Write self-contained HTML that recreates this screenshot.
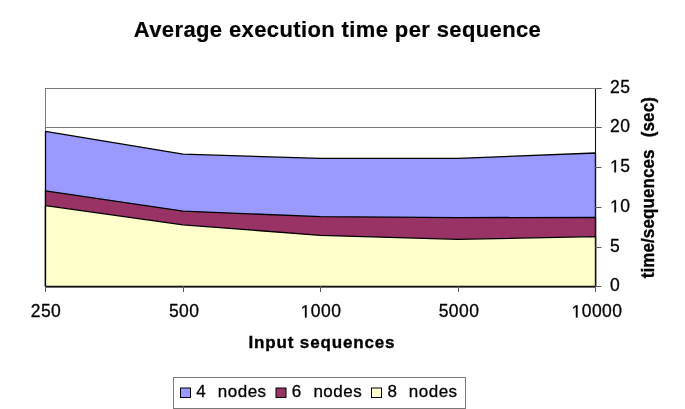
<!DOCTYPE html>
<html>
<head>
<meta charset="utf-8">
<style>
html,body{margin:0;padding:0;background:#fff;width:685px;height:409px;overflow:hidden;}
svg{display:block;will-change:transform;filter:blur(0.3px);}
text{font-family:"Liberation Sans",sans-serif;fill:#000;}
.yl,.xl,.lg{stroke:#000;stroke-width:0.3px;}
.ax{stroke:#000;stroke-width:0.35px;}
.t{stroke:#000;stroke-width:0.2px;}
.t{font-weight:bold;font-size:22px;letter-spacing:0.38px;}
.ax{font-weight:bold;font-size:17px;letter-spacing:0.85px;}
.yl{font-size:17.5px;letter-spacing:0.4px;}
.xl{font-size:17.5px;letter-spacing:0.45px;}
.lg{font-size:17px;letter-spacing:0.5px;}
</style>
</head>
<body>
<svg width="685" height="409" viewBox="0 0 685 409" xmlns="http://www.w3.org/2000/svg">
<rect x="0" y="0" width="685" height="409" fill="#fff"/>
<!-- title -->
<text class="t" transform="translate(133.8,37.4) scale(1,1.01)" x="0" y="0">Average execution time per sequence</text>

<!-- plot area border (gray) -->
<line x1="45" y1="88.5" x2="601.5" y2="88.5" stroke="#787878" stroke-width="1"/>
<line x1="45.5" y1="88" x2="45.5" y2="292" stroke="#787878" stroke-width="1"/>
<!-- gridline 20 -->
<line x1="45" y1="127.5" x2="601.5" y2="127.5" stroke="#787878" stroke-width="1"/>

<!-- areas -->
<polygon points="45.5,131.4 183,154.2 320.5,158.4 458,158.4 595.5,153 595.5,286.5 45.5,286.5" fill="#9999FF" stroke="#000" stroke-width="1.3" stroke-linejoin="round"/>
<polygon points="45.5,190.9 183,211.1 320.5,216.7 458,217.6 595.5,217.4 595.5,286.5 45.5,286.5" fill="#993366" stroke="#000" stroke-width="1.3" stroke-linejoin="round"/>
<polygon points="45.5,205.6 183,224.8 320.5,235.4 458,239.3 595.5,236.6 595.5,286.5 45.5,286.5" fill="#FFFFCC" stroke="#000" stroke-width="1.3" stroke-linejoin="round"/>

<!-- value axis (right) -->
<line x1="595.5" y1="88" x2="595.5" y2="287" stroke="#141414" stroke-width="1.1"/>
<g stroke="#5a5a5a" stroke-width="1">
<line x1="595" y1="88.5" x2="601.5" y2="88.5"/>
<line x1="595" y1="127.5" x2="601.5" y2="127.5"/>
<line x1="595" y1="167.5" x2="601.5" y2="167.5"/>
<line x1="595" y1="207.5" x2="601.5" y2="207.5"/>
<line x1="595" y1="247.5" x2="601.5" y2="247.5"/>
<line x1="595" y1="286.5" x2="601.5" y2="286.5"/>
</g>
<!-- category axis -->
<line x1="45" y1="286.5" x2="596" y2="286.5" stroke="#141414" stroke-width="1.1"/>
<g stroke="#5a5a5a" stroke-width="1">
<line x1="45.5" y1="286" x2="45.5" y2="292"/>
<line x1="183.5" y1="286" x2="183.5" y2="292"/>
<line x1="320.5" y1="286" x2="320.5" y2="292"/>
<line x1="458.5" y1="286" x2="458.5" y2="292"/>
<line x1="595.5" y1="286" x2="595.5" y2="292"/>
</g>

<!-- y labels -->
<text class="yl" x="610" y="92.8">25</text>
<text class="yl" x="610" y="131.9">20</text>
<path transform="translate(610,172.3) scale(0.008545,-0.008545)" d="M515 0V1237L197 1010V1180L530 1409H696V0Z" fill="#000" stroke="#000" stroke-width="0.3" vector-effect="non-scaling-stroke"/><text class="yl" x="620.13" y="172.3">5</text>
<path transform="translate(610,212.2) scale(0.008545,-0.008545)" d="M515 0V1237L197 1010V1180L530 1409H696V0Z" fill="#000" stroke="#000" stroke-width="0.3" vector-effect="non-scaling-stroke"/><text class="yl" x="620.13" y="212.2">0</text>
<text class="yl" x="610" y="252">5</text>
<text class="yl" x="610" y="291.4">0</text>

<!-- x labels -->
<text class="xl" x="46" y="317.4" text-anchor="middle">250</text>
<text class="xl" x="184.2" y="317.4" text-anchor="middle">500</text>
<path transform="translate(300.63,317.4) scale(0.008545,-0.008545)" d="M515 0V1237L197 1010V1180L530 1409H696V0Z" fill="#000" stroke="#000" stroke-width="0.3" vector-effect="non-scaling-stroke"/><text class="xl" x="310.80" y="317.4">000</text>
<text class="xl" x="459" y="317.4" text-anchor="middle">5000</text>
<path transform="translate(571.54,317.4) scale(0.008545,-0.008545)" d="M515 0V1237L197 1010V1180L530 1409H696V0Z" fill="#000" stroke="#000" stroke-width="0.3" vector-effect="non-scaling-stroke"/><text class="xl" x="581.71" y="317.4">0000</text>

<!-- x axis title -->
<text class="ax" x="248.5" y="348.1">Input sequences</text>

<!-- y axis title (rotated) -->
<text class="ax" transform="translate(654.3,278.3) rotate(-90) scale(1,1.08)" style="letter-spacing:0.1px">time/sequences</text>
<text class="ax" transform="translate(654.3,137.2) rotate(-90) scale(1,1.08)" style="letter-spacing:0.1px">(sec)</text>

<!-- legend -->
<rect x="173.5" y="377.5" width="292" height="31" fill="#fff" stroke="#787878" stroke-width="1"/>
<rect x="180.5" y="388" width="10" height="9.5" fill="#9999FF" stroke="#000" stroke-width="1"/>
<rect x="276" y="388" width="10" height="9.5" fill="#993366" stroke="#000" stroke-width="1"/>
<rect x="371.5" y="388" width="10" height="9.5" fill="#FFFFCC" stroke="#000" stroke-width="1"/>
<text class="lg" x="196.3" y="397">4</text>
<text class="lg" x="217.8" y="397">nodes</text>
<text class="lg" x="291.8" y="397">6</text>
<text class="lg" x="313.4" y="397">nodes</text>
<text class="lg" x="387.6" y="397">8</text>
<text class="lg" x="408.8" y="397">nodes</text>
</svg>
</body>
</html>
